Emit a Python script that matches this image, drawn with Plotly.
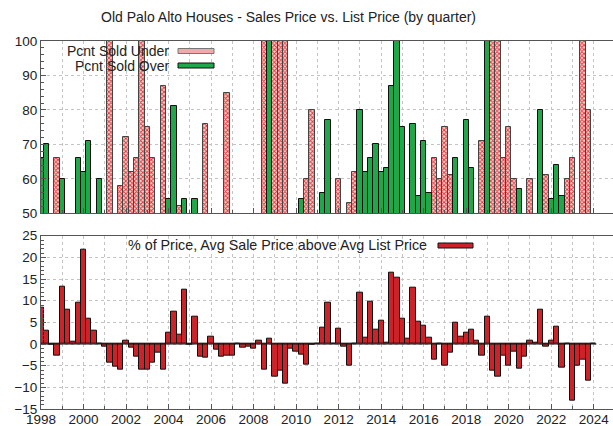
import plotly.graph_objects as go

# ---- data (quarterly, starting 1998 Q1) ----
start_year = 1998
n_quarters = 105
quarters = [start_year + 0.25 * k for k in range(n_quarters)]

# Percent of homes sold under list price (only values above 50 are visible)
pct_under = {3: 66, 13: 100, 15: 58, 16: 72, 17: 62, 18: 66, 19: 100, 20: 75,
             21: 66, 23: 87, 26: 52, 31: 76, 35: 85, 42: 100, 44: 100, 45: 100,
             46: 100, 50: 60, 51: 80, 56: 60, 58: 53, 59: 62, 74: 66, 75: 60,
             76: 75, 77: 61, 83: 71, 85: 100, 86: 100, 87: 66, 88: 75, 89: 60,
             92: 60, 95: 61, 99: 60, 100: 66, 102: 100, 103: 80}
# Percent of homes sold over list price
pct_over = {0: 66, 1: 70, 4: 60, 7: 66, 8: 62, 9: 71, 11: 60, 24: 54, 25: 81,
            27: 54, 29: 54, 43: 100, 49: 54, 53: 56, 54: 77, 60: 80, 61: 62,
            62: 66, 63: 70, 64: 62, 65: 63, 66: 87, 67: 100, 68: 75, 70: 76,
            71: 55, 72: 71, 73: 56, 78: 66, 80: 77, 81: 63, 84: 100, 90: 57,
            94: 80, 96: 54, 97: 64, 98: 55}
under_vals = [pct_under.get(k) for k in range(n_quarters)]
over_vals = [pct_over.get(k) for k in range(n_quarters)]

# % by which avg sale price is above avg list price
avg_above = [8.5, 3.1, -0.2, -2.8, 13.3, 7.9, 0.5, 9.5, 21.7, 5.8, 3.1, 0, -0.6,
             -4.2, -5.3, -5.9, 0.8, -0.9, -2.9, -5.9, -5.9, -4.2, -1.9, -5.9,
             2.6, 7.5, 2.2, 12.6, -0.2, 6.4, -2.9, -3.1, 1.8, -1.4, -2.9, -2.6,
             -2.6, 0, -0.9, -0.6, -1.1, 0.7, -5.9, 1.2, -7.6, -6.2, -9.1, -1.0,
             -1.8, -2.5, -4.7, -0.15, 0.1, 3.7, 9.5, 0.1, 3.5, -0.6, -5.1, 0,
             11.9, 1.4, 9.8, 3.3, 5.4, 0.3, 16.5, 15.3, 5.8, 1.2, 12.9, 5.1,
             4.3, 1.4, -3.6, 0.1, -5.1, -1.9, 4.9, 1.7, 2.6, 3.3, 0.8, -2.8,
             6.2, -6.1, -7.6, -2.8, -5.1, -1.7, -5.7, -3.0, 0.8, 0.2, 7.9, -0.7,
             0.8, 3.9, -5.5, 0, -13.0, -4.9, -3.7, -8.4, 0]

title_text = "Old Palo Alto Houses - Sales Price vs. List Price (by quarter)"
under_name = "Pcnt Sold Under"
over_name = "Pcnt Sold Over"
avg_name = "% of Price, Avg Sale Price above Avg List Price"
year_ticks = list(range(1998, 2025, 2))

# ---- style ----
FONT = "Liberation Sans, Arial, sans-serif"
GREEN = "#1fa74a"
RED = "#cc2229"
PINK_FG = "#e03434"
PINK_BG = "#f9d4d4"
GRID = "#c4c4c4"
AXIS = "#555555"
TXT = "#222222"
TICK_SIZE = 13.5
bar_w = 0.25

fig = go.Figure()
fig.add_trace(go.Bar(
    x=quarters, y=under_vals, width=bar_w, name=under_name,
    xaxis="x2", yaxis="y2",
    marker=dict(color=PINK_BG, line=dict(color="#444444", width=1),
                pattern=dict(shape="x", size=3, solidity=0.5,
                             fgcolor=PINK_FG, bgcolor=PINK_BG, fillmode="replace")),
    showlegend=False))
fig.add_trace(go.Bar(
    x=quarters, y=over_vals, width=bar_w, name=over_name,
    xaxis="x2", yaxis="y2",
    marker=dict(color=GREEN, line=dict(color="#111111", width=1)),
    showlegend=False))
fig.add_trace(go.Bar(
    x=quarters, y=avg_above, width=bar_w, name=avg_name,
    xaxis="x", yaxis="y",
    marker=dict(color=RED, line=dict(color="#111111", width=1)),
    showlegend=False))
# zero baseline across the data range
fig.add_trace(go.Scatter(
    x=[quarters[0] - bar_w / 2, quarters[-1] + bar_w / 2], y=[0, 0],
    mode="lines", line=dict(color="#111111", width=1),
    xaxis="x", yaxis="y", hoverinfo="skip", showlegend=False))

x_range = [1998, 2024.905]
common_x = dict(range=x_range, showline=True, linecolor=AXIS, linewidth=1,
                mirror=True, ticks="inside", ticklen=5, tickcolor=AXIS,
                tickvals=year_ticks, showgrid=True, gridcolor=GRID, griddash="dot",
                gridwidth=1, zeroline=False, automargin=False,
                minor=dict(dtick=1, showgrid=True, gridcolor=GRID, griddash="dot",
                           ticks="inside", ticklen=3, tickcolor=AXIS),
                tickfont=dict(family=FONT, size=TICK_SIZE, color=TXT))

common_y = dict(showline=True, linecolor=AXIS, ticks="inside", ticklen=5,
                tickcolor=AXIS, showgrid=True, gridcolor=GRID, griddash="dot",
                zeroline=False, automargin=False,
                tickfont=dict(family=FONT, size=TICK_SIZE, color=TXT))

top_dom = [0.532, 1.0]
bot_dom = [0.0, 0.471]

fig.update_layout(
    template="none",
    width=613, height=426,
    margin=dict(l=41, r=0, t=41, b=17, autoexpand=False),
    paper_bgcolor="white", plot_bgcolor="white",
    barmode="overlay", bargap=0,
    font=dict(family=FONT, size=13, color=TXT),
    xaxis=dict(common_x, anchor="y", tickformat="d", ticklabelstandoff=-2),
    xaxis2=dict(common_x, anchor="y2", showticklabels=False, matches="x"),
    yaxis=dict(common_y, domain=bot_dom, range=[-15, 25], dtick=5, anchor="x",
               minor=dict(dtick=1, ticks="inside", ticklen=3, tickcolor=AXIS,
                          showgrid=False)),
    yaxis2=dict(common_y, domain=top_dom, range=[50, 100], dtick=10, anchor="x2",
                minor=dict(dtick=2, ticks="inside", ticklen=3, tickcolor=AXIS,
                           showgrid=False)),
)

PX0, PW, PB, PH = 41, 572, 409, 368
fx = lambda px: (px - PX0) / PW
fy = lambda py: (PB - py) / PH

# title
fig.add_annotation(text=title_text, xref="paper", yref="paper",
                   x=fx(288.5), y=fy(17), xanchor="center", yanchor="middle",
                   showarrow=False, font=dict(family=FONT, size=14, color=TXT))

# legend-like keys (text then swatch, as in the original)
def key(text, ytext_px, text_right_px, sw_x0, sw_x1, fill, line, size):
    fig.add_annotation(text=text, xref="paper", yref="paper",
                       x=fx(text_right_px), y=fy(ytext_px), xanchor="right",
                       yanchor="middle", showarrow=False, borderpad=0,
                       font=dict(family=FONT, size=size, color=TXT))
    fig.add_shape(type="rect", xref="paper", yref="paper",
                  x0=fx(sw_x0), x1=fx(sw_x1), y0=fy(ytext_px + 2.5),
                  y1=fy(ytext_px - 2.5), fillcolor=fill,
                  line=dict(color=line, width=1))

key(under_name, 51, 170, 178, 214, "#f2a9a9", "#777777", 14)
key(over_name, 65.5, 170, 178, 214, GREEN, "#111111", 14)
key(avg_name, 245.5, 428, 438, 473, RED, "#111111", 14.3)

fig.write_html("out.html",
               config={"displayModeBar": False},
               post_script="document.body.style.margin='0px';"
                           "document.body.style.overflow='hidden';")
